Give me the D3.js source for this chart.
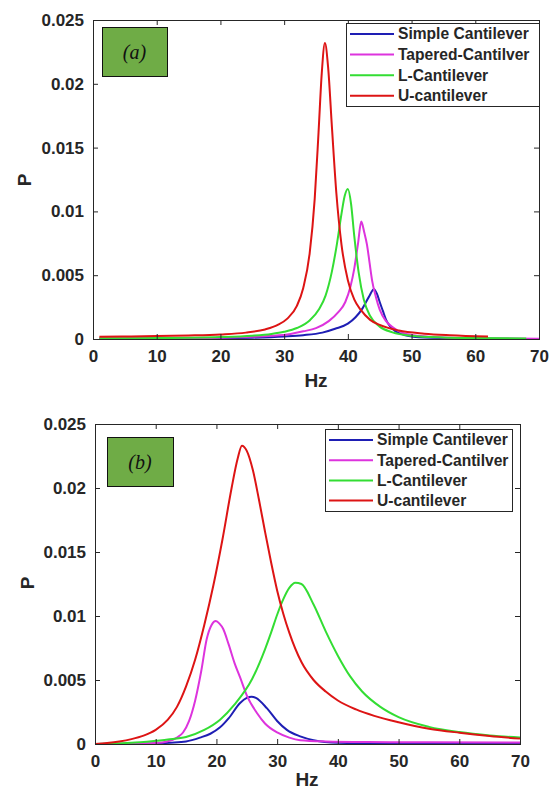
<!DOCTYPE html>
<html>
<head>
<meta charset="utf-8">
<script src="https://cdn.jsdelivr.net/npm/d3@7"></script>
<style>
  html, body { margin: 0; padding: 0; background: #fff; }
</style>
</head>
<body>
<div id="chart"></div>
<script>
// legend names (same order in both panels)
const seriesNames = ['Simple Cantilever', 'Tapered-Cantilver', 'L-Cantilever', 'U-cantilever'];
const seriesColors = ['#1e1eb4', '#dd33dd', '#33dd33', '#dd1414'];

const xTicks = [0, 10, 20, 30, 40, 50, 60, 70];
const yTicks = [0, 0.005, 0.01, 0.015, 0.02, 0.025];
const yTickLabels = ['0', '0.005', '0.01', '0.015', '0.02', '0.025'];

// panel (a): [Hz, P]
const aSimple = [[1, 0.00001], [10, 0.00002], [20, 0.00005], [25, 0.0001], [30, 0.0002], [33, 0.0003],
  [36, 0.0005], [38, 0.0008], [40, 0.0012], [41.2, 0.0017], [42.3, 0.0024], [43.3, 0.0033], [44.1, 0.0039],
  [44.6, 0.0035], [45, 0.0029], [45.5, 0.0022], [46, 0.0015], [46.6, 0.001], [47.5, 0.0006], [49, 0.0003],
  [52, 0.00012], [58, 0.00004]];
const aTapered = [[1, 0.00003], [10, 0.00005], [20, 0.0001], [25, 0.00017], [28, 0.00025], [31, 0.0004],
  [33, 0.0006], [35, 0.00085], [37, 0.0014], [38.5, 0.0021], [39.6, 0.0029], [40.4, 0.0041], [41, 0.0055],
  [41.6, 0.0075], [42.1, 0.0092], [42.6, 0.0083], [43, 0.0074], [43.4, 0.006], [43.8, 0.0046], [44.4, 0.0033],
  [45, 0.0023], [46, 0.0014], [47.1, 0.0009], [48.5, 0.0005], [50, 0.00032], [55, 0.00012], [60, 0.00006],
  [70, 0.00002]];
const aL = [[1, 0.00005], [10, 0.00007], [20, 0.00015], [25, 0.00026], [28, 0.0004], [30, 0.00057],
  [32, 0.00086], [34, 0.00145], [35.5, 0.00235], [36.5, 0.0034], [37.5, 0.0053], [38.3, 0.0075], [39, 0.0098],
  [39.5, 0.0112], [40, 0.01175], [40.5, 0.0106], [41, 0.0081], [41.7, 0.0052], [42.5, 0.0031], [43.5, 0.0018],
  [45, 0.00097], [47, 0.00052], [50, 0.00026], [55, 0.00012], [60, 0.00007], [68, 0.00004]];
const aU = [[1, 0.00018], [5, 0.0002], [10, 0.00023], [15, 0.00028], [20, 0.00036], [24, 0.0005],
  [27, 0.00075], [29, 0.0011], [30.5, 0.0016], [32, 0.0026], [33, 0.004], [34, 0.0067], [34.8, 0.011],
  [35.4, 0.0162], [35.9, 0.0208], [36.4, 0.0232], [36.9, 0.0213], [37.5, 0.0166], [38.2, 0.0114],
  [39, 0.0074], [40, 0.0046], [41, 0.0031], [42, 0.0023], [43.5, 0.0015], [45, 0.0011], [48, 0.00066],
  [52, 0.00042], [56, 0.0003], [62, 0.0002]];

// panel (b): [Hz, P]
const bSimple = [[0, 0], [8, 0.00002], [12.4, 0.0001], [15, 0.0002], [17.3, 0.0005], [19, 0.0008],
  [20.6, 0.0013], [22, 0.002], [23.9, 0.0032], [25, 0.0036], [25.8, 0.0037], [26.5, 0.0036], [28.3, 0.0028],
  [30, 0.0018], [31.6, 0.0011], [33.8, 0.0006], [36, 0.0003], [40, 0.0001], [50, 0.00004], [60, 0.00002],
  [70, 0.00001]];
const bTapered = [[0, 0], [5, 0.00002], [10, 0.00008], [11.9, 0.0002], [13.5, 0.0005], [14.5, 0.0009],
  [15.5, 0.0018], [16.5, 0.0034], [17.5, 0.0057], [18.4, 0.0082], [19.2, 0.0093], [19.9, 0.0096],
  [20.5, 0.0094], [21.1, 0.009], [22, 0.0078], [23, 0.0063], [23.9, 0.0052], [25, 0.0038], [26.7, 0.0024],
  [28, 0.0016], [30, 0.0009], [32, 0.0005], [33.8, 0.0003], [38, 0.0002], [45, 0.00015], [55, 0.00013],
  [70, 0.00012]];
const bL = [[0, 0], [3, 0.00003], [6, 0.0001], [8, 0.00015], [10, 0.00025], [12, 0.00035], [15, 0.00055],
  [18, 0.0011], [20.6, 0.0019], [23, 0.0031], [25.9, 0.0051], [28, 0.0074], [29, 0.0087], [30, 0.0101],
  [31, 0.0113], [32, 0.0122], [33, 0.0126], [34, 0.0125], [36, 0.0109], [38, 0.0088], [40, 0.0069],
  [42, 0.0053], [44, 0.0041], [47, 0.0029], [50, 0.0021], [55, 0.00134], [60, 0.00093], [65, 0.00067],
  [70, 0.00051]];
const bU = [[0, 0], [2, 0.00008], [4, 0.0002], [6, 0.00038], [8, 0.00065], [10, 0.0011], [12, 0.0019],
  [13.5, 0.0029], [15, 0.0045], [16.5, 0.0066], [18, 0.0093], [19.5, 0.0124], [21, 0.016], [22.5, 0.02],
  [23.5, 0.0223], [24.2, 0.0233], [25, 0.0229], [26, 0.0214], [27, 0.0191], [28, 0.0166], [29, 0.0142],
  [30, 0.012], [31, 0.0102], [32, 0.0087], [34, 0.0064], [36, 0.005], [38, 0.0041], [40, 0.0034],
  [43, 0.0027], [46, 0.0022], [50, 0.0017], [55, 0.0012], [60, 0.00088], [65, 0.00062], [70, 0.00042]];

const sans = "'Liberation Sans', Arial, sans-serif";
const ink = '#262626';

const svg = d3.select('#chart').append('svg')
  .attr('width', 549).attr('height', 791)
  .style('display', 'block')
  .style('background', '#fff');

const panels = [
  {left: 93, right: 539, top: 20, bottom: 339, label: '(a)', series: [aSimple, aTapered, aL, aU],
    tag: {x: 102, y: 27, w: 65, h: 49},
    legend: {x: 346, y: 23, w: 193, h: 83, row: 20.6},
    hz: {x: 316, y: 387}, p: {x: 24, y: 180}},
  {left: 95, right: 520, top: 424, bottom: 744, label: '(b)', series: [bSimple, bTapered, bL, bU],
    tag: {x: 107, y: 437, w: 66, h: 49},
    legend: {x: 325, y: 429, w: 187, h: 82, row: 20.2},
    hz: {x: 307, y: 786}, p: {x: 27, y: 583}}
];

const drawPanel = (p) => {
  const x = d3.scaleLinear().domain([0, 70]).range([p.left, p.right]);
  const y = d3.scaleLinear().domain([0, 0.025]).range([p.bottom, p.top]);
  const g = svg.append('g');

  const line = d3.line()
    .x(d => x(d[0]))
    .y(d => y(d[1]))
    .curve(d3.curveMonotoneX);

  g.selectAll('path.series')
    .data(p.series)
    .join('path')
    .attr('class', 'series')
    .attr('d', d => line(d))
    .attr('fill', 'none')
    .attr('stroke', (d, i) => seriesColors[i])
    .attr('stroke-width', 2)
    .attr('stroke-linejoin', 'round');

  const styleAxis = a => {
    a.select('.domain').remove();
    a.selectAll('line').attr('stroke', ink);
    a.selectAll('text')
      .attr('fill', ink)
      .style('font-family', sans)
      .style('font-size', '17px')
      .style('font-weight', 'bold');
  };

  g.append('g')
    .attr('transform', `translate(0,${p.bottom})`)
    .call(d3.axisBottom(x).tickValues(xTicks).tickSize(-5).tickSizeOuter(0).tickPadding(11).tickFormat(d3.format('d')))
    .call(styleAxis);
  g.append('g')
    .attr('transform', `translate(0,${p.top})`)
    .call(d3.axisTop(x).tickValues(xTicks).tickSize(-5).tickSizeOuter(0).tickFormat(() => ''))
    .call(styleAxis);
  g.append('g')
    .attr('transform', `translate(${p.left},0)`)
    .call(d3.axisLeft(y).tickValues(yTicks).tickSize(-5).tickSizeOuter(0).tickPadding(9).tickFormat((d, i) => yTickLabels[i]))
    .call(styleAxis);
  g.append('g')
    .attr('transform', `translate(${p.right},0)`)
    .call(d3.axisRight(y).tickValues(yTicks).tickSize(-5).tickSizeOuter(0).tickFormat(() => ''))
    .call(styleAxis);

  g.append('rect')
    .attr('x', p.left + 0.5).attr('y', p.top + 0.5)
    .attr('width', p.right - p.left).attr('height', p.bottom - p.top)
    .attr('fill', 'none').attr('stroke', ink).attr('stroke-width', 1);

  // axis titles
  g.append('text')
    .attr('x', p.hz.x).attr('y', p.hz.y)
    .attr('text-anchor', 'middle')
    .attr('fill', ink)
    .style('font-family', sans).style('font-size', '19px').style('font-weight', 'bold')
    .text('Hz');
  g.append('text')
    .attr('transform', `translate(${p.p.x},${p.p.y}) rotate(-90)`)
    .attr('text-anchor', 'middle')
    .attr('dy', '0.35em')
    .attr('fill', ink)
    .style('font-family', sans).style('font-size', '19px').style('font-weight', 'bold')
    .text('P');

  // green panel tag
  g.append('rect')
    .attr('x', p.tag.x + 0.5).attr('y', p.tag.y + 0.5)
    .attr('width', p.tag.w).attr('height', p.tag.h)
    .attr('fill', '#6fac46').attr('stroke', '#111').attr('stroke-width', 1);
  g.append('text')
    .attr('x', p.tag.x + p.tag.w / 2).attr('y', p.tag.y + p.tag.h / 2)
    .attr('dy', '0.35em')
    .attr('text-anchor', 'middle')
    .attr('fill', '#111')
    .style('font-family', "'Liberation Serif', 'Times New Roman', serif")
    .style('font-style', 'italic')
    .style('font-size', '20px')
    .text(p.label);

  // legend
  const lg = g.append('g').attr('transform', `translate(${p.legend.x},${p.legend.y})`);
  lg.append('rect')
    .attr('x', 0.5).attr('y', 0.5)
    .attr('width', p.legend.w).attr('height', p.legend.h)
    .attr('fill', '#fff').attr('stroke', ink).attr('stroke-width', 1);
  const items = lg.selectAll('g.item')
    .data(seriesNames)
    .join('g')
    .attr('class', 'item')
    .attr('transform', (d, i) => `translate(0,${11 + i * p.legend.row})`);
  items.append('line')
    .attr('x1', 4).attr('x2', 48)
    .attr('stroke', (d, i) => seriesColors[i])
    .attr('stroke-width', 2);
  items.append('text')
    .attr('x', 52)
    .attr('dy', '0.35em')
    .attr('fill', ink)
    .style('font-family', sans).style('font-size', '15.6px').style('font-weight', 'bold')
    .text(d => d);
};

panels.forEach(drawPanel);
</script>
</body>
</html>
